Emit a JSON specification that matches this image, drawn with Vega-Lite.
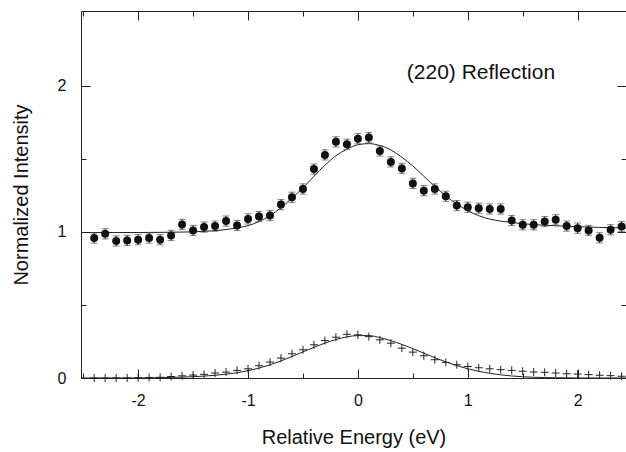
{
  "$schema": "https://vega.github.io/schema/vega-lite/v6.json",
  "width": 545,
  "height": 367,
  "autosize": {"type": "none"},
  "padding": {"left": 81, "top": 11, "right": 0, "bottom": 74},
  "background": "white",
  "config": {
    "view": {"stroke": "#222", "strokeWidth": 1},
    "axis": {"grid": false, "domain": false, "labelFont": "Liberation Sans", "titleFont": "Liberation Sans", "labelColor": "#111", "titleColor": "#111", "tickColor": "#222", "titleFontWeight": "normal", "labelFontSize": 16, "titleFontSize": 20}
  },
  "datasets": {
    "points": [
      {"x": -2.4, "y": 0.957, "err": 0.035}, {"x": -2.3, "y": 0.986, "err": 0.035}, {"x": -2.2, "y": 0.937, "err": 0.035},
      {"x": -2.1, "y": 0.941, "err": 0.035}, {"x": -2.0, "y": 0.946, "err": 0.035}, {"x": -1.9, "y": 0.957, "err": 0.035},
      {"x": -1.8, "y": 0.946, "err": 0.035}, {"x": -1.7, "y": 0.975, "err": 0.035}, {"x": -1.6, "y": 1.05, "err": 0.035},
      {"x": -1.5, "y": 1.009, "err": 0.035}, {"x": -1.4, "y": 1.032, "err": 0.035}, {"x": -1.3, "y": 1.039, "err": 0.035},
      {"x": -1.2, "y": 1.073, "err": 0.035}, {"x": -1.1, "y": 1.043, "err": 0.035}, {"x": -1.0, "y": 1.088, "err": 0.035},
      {"x": -0.9, "y": 1.104, "err": 0.035}, {"x": -0.8, "y": 1.111, "err": 0.035}, {"x": -0.7, "y": 1.186, "err": 0.035},
      {"x": -0.6, "y": 1.236, "err": 0.035}, {"x": -0.5, "y": 1.293, "err": 0.035}, {"x": -0.4, "y": 1.429, "err": 0.035},
      {"x": -0.3, "y": 1.526, "err": 0.035}, {"x": -0.2, "y": 1.615, "err": 0.035}, {"x": -0.1, "y": 1.599, "err": 0.035},
      {"x": 0.0, "y": 1.637, "err": 0.035}, {"x": 0.1, "y": 1.644, "err": 0.035}, {"x": 0.2, "y": 1.553, "err": 0.035},
      {"x": 0.3, "y": 1.478, "err": 0.035}, {"x": 0.4, "y": 1.433, "err": 0.035}, {"x": 0.5, "y": 1.331, "err": 0.035},
      {"x": 0.6, "y": 1.281, "err": 0.035}, {"x": 0.7, "y": 1.293, "err": 0.035}, {"x": 0.8, "y": 1.243, "err": 0.035},
      {"x": 0.9, "y": 1.179, "err": 0.035}, {"x": 1.0, "y": 1.168, "err": 0.035}, {"x": 1.1, "y": 1.161, "err": 0.035},
      {"x": 1.2, "y": 1.156, "err": 0.035}, {"x": 1.3, "y": 1.156, "err": 0.035}, {"x": 1.4, "y": 1.077, "err": 0.035},
      {"x": 1.5, "y": 1.048, "err": 0.035}, {"x": 1.6, "y": 1.048, "err": 0.035}, {"x": 1.7, "y": 1.07, "err": 0.035},
      {"x": 1.8, "y": 1.082, "err": 0.035}, {"x": 1.9, "y": 1.039, "err": 0.035}, {"x": 2.0, "y": 1.025, "err": 0.035},
      {"x": 2.1, "y": 1.009, "err": 0.035}, {"x": 2.2, "y": 0.959, "err": 0.035}, {"x": 2.3, "y": 1.014, "err": 0.035},
      {"x": 2.4, "y": 1.036, "err": 0.035}
    ],
    "crosses": [
      {"x": -2.4, "y": 0.0}, {"x": -2.3, "y": 0.0}, {"x": -2.2, "y": 0.0}, {"x": -2.1, "y": 0.001}, {"x": -2.0, "y": 0.002},
      {"x": -1.9, "y": 0.003}, {"x": -1.8, "y": 0.005}, {"x": -1.7, "y": 0.01}, {"x": -1.6, "y": 0.015}, {"x": -1.5, "y": 0.02},
      {"x": -1.4, "y": 0.025}, {"x": -1.3, "y": 0.034}, {"x": -1.2, "y": 0.04}, {"x": -1.1, "y": 0.052}, {"x": -1.0, "y": 0.063},
      {"x": -0.9, "y": 0.084}, {"x": -0.8, "y": 0.109}, {"x": -0.7, "y": 0.136}, {"x": -0.6, "y": 0.166}, {"x": -0.5, "y": 0.193},
      {"x": -0.4, "y": 0.227}, {"x": -0.3, "y": 0.256}, {"x": -0.2, "y": 0.279}, {"x": -0.1, "y": 0.299}, {"x": 0.0, "y": 0.295},
      {"x": 0.1, "y": 0.283}, {"x": 0.2, "y": 0.261}, {"x": 0.3, "y": 0.238}, {"x": 0.4, "y": 0.204}, {"x": 0.5, "y": 0.177},
      {"x": 0.6, "y": 0.152}, {"x": 0.7, "y": 0.125}, {"x": 0.8, "y": 0.107}, {"x": 0.9, "y": 0.091}, {"x": 1.0, "y": 0.079},
      {"x": 1.1, "y": 0.07}, {"x": 1.2, "y": 0.063}, {"x": 1.3, "y": 0.057}, {"x": 1.4, "y": 0.052}, {"x": 1.5, "y": 0.046},
      {"x": 1.6, "y": 0.041}, {"x": 1.7, "y": 0.039}, {"x": 1.8, "y": 0.034}, {"x": 1.9, "y": 0.029}, {"x": 2.0, "y": 0.027},
      {"x": 2.1, "y": 0.023}, {"x": 2.2, "y": 0.019}, {"x": 2.3, "y": 0.016}, {"x": 2.4, "y": 0.012}
    ],
    "fit": [
      {"x": -2.52, "y": 0.995}, {"x": -2.0, "y": 0.995}, {"x": -1.8, "y": 0.996}, {"x": -1.6, "y": 0.998}, {"x": -1.4, "y": 1.003},
      {"x": -1.2, "y": 1.015}, {"x": -1.1, "y": 1.026}, {"x": -1.0, "y": 1.042}, {"x": -0.9, "y": 1.07}, {"x": -0.8, "y": 1.11},
      {"x": -0.7, "y": 1.165}, {"x": -0.6, "y": 1.23}, {"x": -0.5, "y": 1.3}, {"x": -0.4, "y": 1.38}, {"x": -0.3, "y": 1.455},
      {"x": -0.2, "y": 1.52}, {"x": -0.1, "y": 1.565}, {"x": 0.0, "y": 1.595}, {"x": 0.1, "y": 1.603}, {"x": 0.2, "y": 1.59},
      {"x": 0.3, "y": 1.56}, {"x": 0.4, "y": 1.51}, {"x": 0.5, "y": 1.45}, {"x": 0.6, "y": 1.38}, {"x": 0.7, "y": 1.31},
      {"x": 0.8, "y": 1.245}, {"x": 0.9, "y": 1.19}, {"x": 1.0, "y": 1.145}, {"x": 1.1, "y": 1.11}, {"x": 1.2, "y": 1.087},
      {"x": 1.3, "y": 1.073}, {"x": 1.4, "y": 1.064}, {"x": 1.5, "y": 1.055}, {"x": 1.6, "y": 1.049}, {"x": 1.8, "y": 1.041},
      {"x": 2.0, "y": 1.035}, {"x": 2.2, "y": 1.03}, {"x": 2.44, "y": 1.026}
    ],
    "fit2": [
      {"x": -2.52, "y": 0.0}, {"x": -2.0, "y": 0.0}, {"x": -1.8, "y": 0.002}, {"x": -1.6, "y": 0.006}, {"x": -1.4, "y": 0.013},
      {"x": -1.2, "y": 0.026}, {"x": -1.0, "y": 0.05}, {"x": -0.8, "y": 0.09}, {"x": -0.6, "y": 0.147}, {"x": -0.4, "y": 0.21},
      {"x": -0.2, "y": 0.263}, {"x": 0.0, "y": 0.29}, {"x": 0.1, "y": 0.29}, {"x": 0.2, "y": 0.276}, {"x": 0.4, "y": 0.23},
      {"x": 0.6, "y": 0.17}, {"x": 0.8, "y": 0.11}, {"x": 1.0, "y": 0.063}, {"x": 1.2, "y": 0.032}, {"x": 1.4, "y": 0.014},
      {"x": 1.6, "y": 0.005}, {"x": 1.8, "y": 0.002}, {"x": 2.0, "y": 0.0}, {"x": 2.44, "y": 0.0}
    ],
    "notes": [{"x": 1.12, "y": 2.086, "label": "(220) Reflection"}]
  },
  "resolve": {"axis": {"x": "independent", "y": "independent"}},
  "layer": [
    {
      "data": {"name": "fit"},
      "mark": {"type": "line", "color": "#222", "strokeWidth": 1, "interpolate": "monotone"},
      "encoding": {
        "x": {"field": "x", "type": "quantitative", "scale": {"domain": [-2.52, 2.44], "nice": false, "zero": false},
          "axis": {"orient": "top", "values": [-2.5, -2, -1.5, -1, -0.5, 0, 0.5, 1, 1.5, 2], "labels": false, "title": null,
            "tickSize": {"condition": {"test": "datum.value % 1 === 0", "value": -9}, "value": -5}}},
        "y": {"field": "y", "type": "quantitative", "scale": {"domain": [0, 2.51], "nice": false, "zero": false},
          "axis": {"orient": "right", "values": [0.5, 1, 1.5, 2], "labels": false, "title": null,
            "tickSize": {"condition": {"test": "datum.value % 1 === 0", "value": -9}, "value": -5}}}
      }
    },
    {
      "data": {"name": "fit2"},
      "mark": {"type": "line", "color": "#222", "strokeWidth": 1, "interpolate": "monotone"},
      "encoding": {
        "x": {"field": "x", "type": "quantitative", "scale": {"domain": [-2.52, 2.44], "nice": false, "zero": false},
          "axis": {"orient": "bottom", "values": [-2.5, -2, -1.5, -1, -0.5, 0, 0.5, 1, 1.5, 2], "labels": false, "title": null,
            "tickSize": {"condition": {"test": "datum.value % 1 === 0", "value": -9}, "value": -5}}},
        "y": {"field": "y", "type": "quantitative", "scale": {"domain": [0, 2.51], "nice": false, "zero": false},
          "axis": {"orient": "left", "values": [0.5, 1, 1.5, 2], "labels": false, "title": null,
            "tickSize": {"condition": {"test": "datum.value % 1 === 0", "value": -9}, "value": -5}}}
      }
    },
    {
      "data": {"name": "points"},
      "mark": {"type": "errorbar", "ticks": {"size": 7, "color": "#555", "thickness": 1}, "rule": {"color": "#222", "strokeWidth": 1}},
      "encoding": {
        "x": {"field": "x", "type": "quantitative", "scale": {"domain": [-2.52, 2.44], "nice": false, "zero": false}, "axis": null},
        "y": {"field": "y", "type": "quantitative", "scale": {"domain": [0, 2.51], "nice": false, "zero": false}, "axis": null},
        "yError": {"field": "err"}
      }
    },
    {
      "data": {"name": "points"},
      "mark": {"type": "point", "shape": "circle", "filled": true, "color": "#111", "opacity": 1, "size": 64},
      "encoding": {
        "x": {"field": "x", "type": "quantitative", "scale": {"domain": [-2.52, 2.44], "nice": false, "zero": false},
          "axis": {"orient": "bottom", "values": [-2, -1, 0, 1, 2], "title": "Relative Energy (eV)", "ticks": false, "tickSize": 0,
            "labelExpr": "'' + datum.value", "labelPadding": 14, "titlePadding": 19}},
        "y": {"field": "y", "type": "quantitative", "scale": {"domain": [0, 2.51], "nice": false, "zero": false},
          "axis": {"orient": "left", "values": [0, 1, 2], "title": "Normalized Intensity", "ticks": false, "tickSize": 0,
            "labelExpr": "'' + datum.value", "labelPadding": 15, "titlePadding": 26}}
      }
    },
    {
      "data": {"name": "crosses"},
      "mark": {"type": "point", "shape": "M-1,0H1M0,-1V1", "filled": false, "color": "#222", "strokeWidth": 1, "opacity": 1, "size": 64},
      "encoding": {
        "x": {"field": "x", "type": "quantitative", "scale": {"domain": [-2.52, 2.44], "nice": false, "zero": false}, "axis": null},
        "y": {"field": "y", "type": "quantitative", "scale": {"domain": [0, 2.51], "nice": false, "zero": false}, "axis": null}
      }
    },
    {
      "data": {"name": "notes"},
      "mark": {"type": "text", "font": "Liberation Sans", "fontSize": 21, "color": "#111", "align": "center", "baseline": "middle"},
      "encoding": {
        "x": {"field": "x", "type": "quantitative", "scale": {"domain": [-2.52, 2.44], "nice": false, "zero": false}, "axis": null},
        "y": {"field": "y", "type": "quantitative", "scale": {"domain": [0, 2.51], "nice": false, "zero": false}, "axis": null},
        "text": {"field": "label"}
      }
    }
  ]
}
